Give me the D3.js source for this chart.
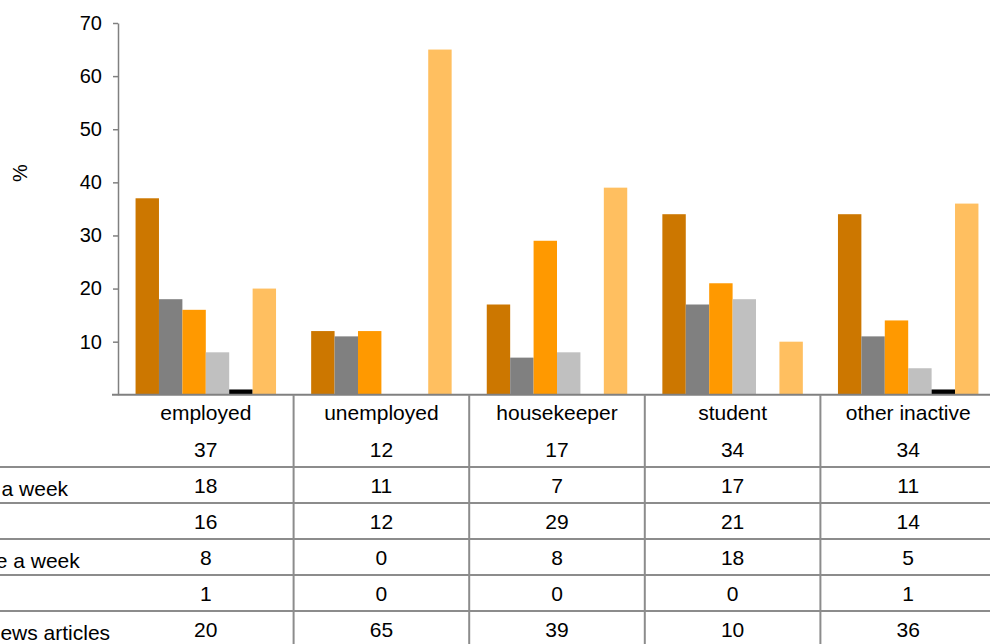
<!DOCTYPE html>
<html>
<head>
<meta charset="utf-8">
<script src="https://cdn.jsdelivr.net/npm/d3@7"></script>
<style>
  html, body { margin: 0; padding: 0; background: #ffffff; overflow: hidden; }
  svg { display: block; font-family: "Liberation Sans", Arial, sans-serif; }
</style>
</head>
<body>
<svg id="chart" width="990" height="644"></svg>
<script>
// Share of each group by how often they read news articles (%)
const categories = ["employed", "unemployed", "housekeeper", "student", "other inactive"];
const seriesNames = [
  "every day",
  "several times a week",
  "once a week",
  "less than once a week",
  "don't know",
  "never reads news articles"
];
const everyDay       = [37, 12, 17, 34, 34];
const severalTimes   = [18, 11, 7, 17, 11];
const onceAWeek      = [16, 12, 29, 21, 14];
const lessThanWeekly = [8, 0, 8, 18, 5];
const dontKnow       = [1, 0, 0, 0, 1];
const neverReads     = [20, 65, 39, 10, 36];
const yTickValues    = [10, 20, 30, 40, 50, 60, 70];

const seriesValues = [everyDay, severalTimes, onceAWeek, lessThanWeekly, dontKnow, neverReads];
const colors = ["#cc7700", "#808080", "#ff9900", "#c0c0c0", "#000000", "#ffbf60"];

const svg = d3.select("#chart");
const plotLeft = 118, plotRight = 996, plotTop = 23, plotBottom = 394.8;
const gridColor = "#8c8c8c";

const x = d3.scaleBand().domain(categories).range([plotLeft, plotRight]).padding(0);
const xInner = d3.scaleBand().domain(d3.range(seriesNames.length))
  .range([0, x.bandwidth()]).paddingInner(0).paddingOuter(0.75);
const y = d3.scaleLinear().domain([0, 70]).range([plotBottom, plotTop]);

// bars
const groups = svg.append("g").selectAll("g")
  .data(categories)
  .join("g")
  .attr("transform", d => `translate(${x(d)},0)`);

groups.selectAll("rect")
  .data((c, ci) => seriesValues.map((vals, si) => ({ si, v: vals[ci] })))
  .join("rect")
  .attr("x", d => xInner(d.si))
  .attr("width", xInner.bandwidth())
  .attr("y", d => y(d.v))
  .attr("height", d => y(0) - y(d.v))
  .attr("fill", d => colors[d.si]);

// y axis
const yAxis = svg.append("g")
  .attr("transform", `translate(${plotLeft},0)`)
  .call(d3.axisLeft(y).tickValues(yTickValues).tickSize(5).tickSizeOuter(0).tickPadding(11));
yAxis.select(".domain").attr("stroke", "#808080").attr("stroke-width", 1.5);
yAxis.selectAll(".tick line").attr("stroke", "#808080").attr("stroke-width", 1.5);
yAxis.selectAll(".tick text")
  .attr("font-size", 20)
  .attr("font-family", "Liberation Sans, Arial, sans-serif")
  .attr("fill", "#000");

svg.append("text")
  .attr("transform", "translate(27,173) rotate(-90)")
  .attr("text-anchor", "middle")
  .attr("font-size", 20)
  .text("%");

// category axis line
svg.append("line")
  .attr("x1", plotLeft - 6).attr("x2", plotRight)
  .attr("y1", y(0)).attr("y2", y(0))
  .attr("stroke", "#808080").attr("stroke-width", 2);

// data table
const table = svg.append("g");
const rowH = 36;
const firstLine = 467;
const rowTop = i => firstLine + (i - 1) * rowH;      // row 0 shares the header cell
const valueBaseline = i => rowTop(i) + 26;
const labelX = -128;

// vertical cell borders between categories
table.selectAll("line.v")
  .data(categories.slice(1))
  .join("line")
  .attr("class", "v")
  .attr("x1", d => x(d)).attr("x2", d => x(d))
  .attr("y1", y(0)).attr("y2", 650)
  .attr("stroke", gridColor).attr("stroke-width", 2);

// horizontal row borders
table.selectAll("line.h")
  .data(d3.range(1, seriesNames.length + 1))
  .join("line")
  .attr("class", "h")
  .attr("x1", labelX - 40).attr("x2", plotRight)
  .attr("y1", d => rowTop(d)).attr("y2", d => rowTop(d))
  .attr("stroke", gridColor).attr("stroke-width", 2);

// category names
table.selectAll("text.cat")
  .data(categories)
  .join("text")
  .attr("class", "cat")
  .attr("x", d => x(d) + x.bandwidth() / 2)
  .attr("y", 420)
  .attr("text-anchor", "middle")
  .attr("font-size", 21)
  .text(d => d);

// values per series row
seriesValues.forEach((vals, si) => {
  table.selectAll(`text.val${si}`)
    .data(vals)
    .join("text")
    .attr("class", `val${si}`)
    .attr("x", (d, ci) => x(categories[ci]) + x.bandwidth() / 2)
    .attr("y", valueBaseline(si))
    .attr("text-anchor", "middle")
    .attr("font-size", 21)
    .text(d => d);
});

// legend keys and series names at the left of the table
const legend = table.selectAll("g.legend")
  .data(seriesNames)
  .join("g")
  .attr("class", "legend");
legend.append("rect")
  .attr("x", labelX - 26)
  .attr("y", (d, i) => valueBaseline(i) - 13)
  .attr("width", 14).attr("height", 14)
  .attr("fill", (d, i) => colors[i]);
legend.append("text")
  .attr("x", labelX)
  .attr("y", (d, i) => valueBaseline(i) + 2.5)
  .attr("font-size", 21)
  .text(d => d);
</script>
</body>
</html>
